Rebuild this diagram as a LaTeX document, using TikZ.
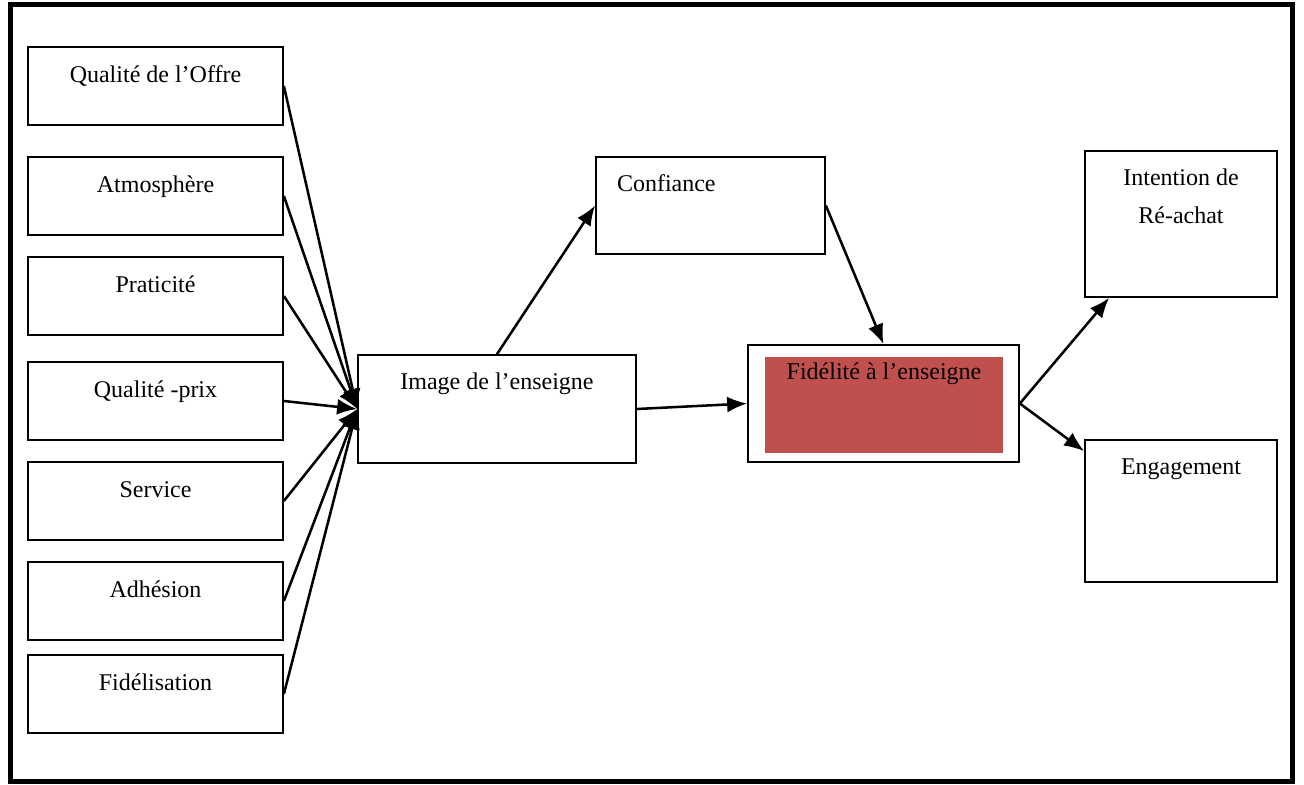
\documentclass[tikz,border=0pt]{standalone}
\usepackage{fontspec}
\setmainfont{Liberation Serif}
\usepackage{xcolor}
\usetikzlibrary{arrows.meta,calc}

\definecolor{fidred}{HTML}{C0504D}

\tikzset{
  box/.style={draw, line width=1.3pt, rectangle, inner sep=0pt, align=center, font=\fontsize{18}{28.5}\selectfont},
  leftbox/.style={box, minimum width=191.25pt, text height=26.25pt, text depth=32.25pt},
  conn/.style={line width=1.9pt, -{Latex[length=15pt,width=12pt]}}
}

\begin{document}
\begin{tikzpicture}[x=0.75pt,y=0.75pt,yscale=-1,xscale=1]
\useasboundingbox (0,0) rectangle (1304,785);

%Shape: Frame
\draw [line width=3.9pt] (10.5,4.5) rectangle (1292.5,781.5) ;

%Shape: Rectangle (left column)
\draw (155.5,86) node [leftbox] (qual) {Qualité de l’Offre};
\draw (155.5,196) node [leftbox] (atmo) {Atmosphère};
\draw (155.5,296) node [leftbox] (prat) {Praticité};
\draw (155.5,401) node [leftbox] (prix) {Qualité -prix};
\draw (155.5,501) node [leftbox] (serv) {Service};
\draw (155.5,601) node [leftbox] (adhe) {Adhésion};
\draw (155.5,694) node [leftbox] (fide) {Fidélisation};

%Shape: Rectangle
\draw (497,409) node [box, minimum width=208.5pt, text height=25.5pt, text depth=55.5pt] (img) {Image de l’enseigne};
%Shape: Rectangle
\draw (710.5,205.5) node [box, inner xsep=15.75pt, text width=140.25pt, align=left, text height=25.5pt, text depth=47.25pt] (conf) {Confiance};
%Shape: Rectangle
\draw (883.5,403.5) node [box, minimum width=203.25pt, minimum height=87.75pt] (fid) {};
%Shape: Rectangle (filled)
\draw (884,405) node [box, draw=none, fill=fidred, minimum width=178.5pt, text height=16.5pt, text depth=55.5pt] (fidin) {Fidélité à l’enseigne};
%Shape: Rectangle
\draw (1181,224) node [box, minimum width=144pt, text height=54pt, text depth=55.5pt] (intent) {Intention de\\Ré-achat};
%Shape: Rectangle
\draw (1181,511) node [box, minimum width=144pt, text height=25.5pt, text depth=81pt] (eng) {Engagement};

% Connection
\foreach \src in {qual,atmo,prat,prix,serv,adhe,fide}
  \draw [conn] (\src.east) -- (img.west) ;
% Connection
\draw [conn] (img.north) -- (conf.west) ;
% Connection
\draw [conn] (conf.east) -- (fid.north) ;
% Connection
\draw [conn] (img.east) -- (fid.west) ;
% Connection
\draw [conn] (fid.east) -- ($(intent.south west)+(25,0)$) ;
% Connection
\draw [conn] (fid.east) -- ($(eng.north west)+(0,12)$) ;

\end{tikzpicture}
\end{document}
